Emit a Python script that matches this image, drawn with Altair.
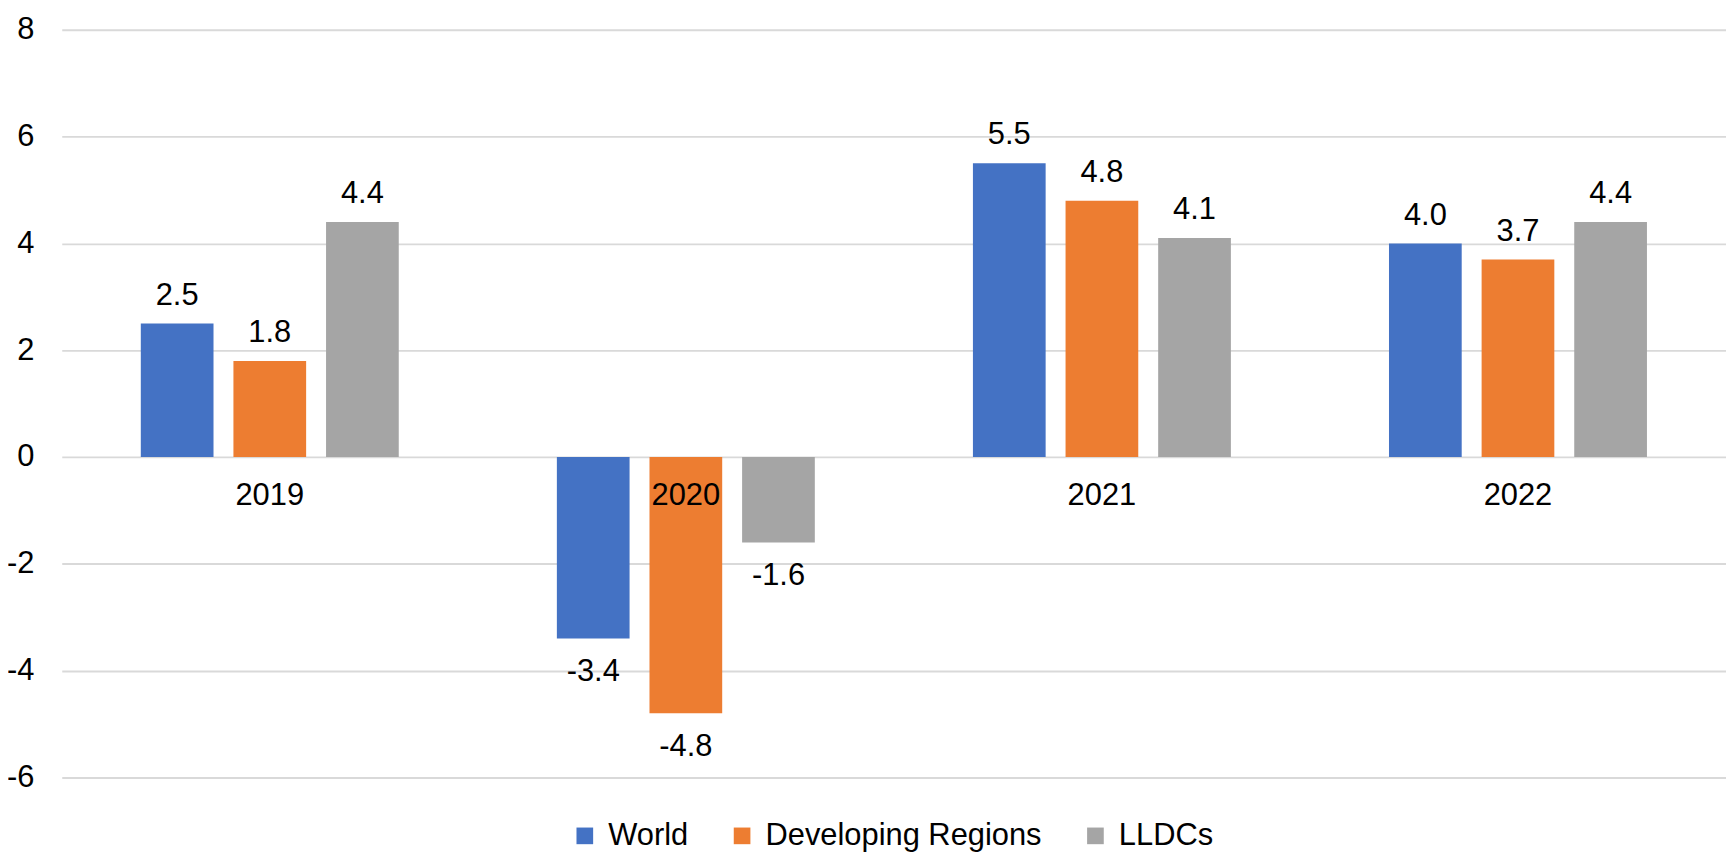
import altair as alt
import pandas as pd

years = ["2019", "2020", "2021", "2022"]
series = ["World", "Developing Regions", "LLDCs"]
world = [2.5, -3.4, 5.5, 4.0]
developing = [1.8, -4.8, 4.8, 3.7]
lldcs = [4.4, -1.6, 4.1, 4.4]
colors = ["#4472C4", "#ED7D31", "#A5A5A5"]
y_ticks = [-6, -4, -2, 0, 2, 4, 6, 8]

rows = []
for name, vals in zip(series, [world, developing, lldcs]):
    for yr, v in zip(years, vals):
        rows.append({"year": yr, "series": name, "value": v, "label": f"{v:.1f}"})
df = pd.DataFrame(rows)

W, H = 1672, 751
YMIN, YMAX = -6, 8
FONT = "Liberation Sans"
FS = 31
zero_offset = -H * (0 - YMIN) / (YMAX - YMIN)

base = alt.Chart(df).encode(
    x=alt.X(
        "year:N", sort=years, title=None,
        scale=alt.Scale(paddingInner=0.38, paddingOuter=0.19),
        axis=alt.Axis(
            orient="bottom", offset=zero_offset, domain=False, ticks=False,
            tickSize=0, grid=False, labelAngle=0, labelFontSize=FS,
            labelFont=FONT, labelColor="#000000", labelPadding=48,
            labelBaseline="alphabetic", zindex=1,
        ),
    ),
    xOffset=alt.XOffset(
        "series:N", sort=series,
        scale=alt.Scale(domain=series, paddingInner=0.215, paddingOuter=0),
    ),
    y=alt.Y(
        "value:Q", title=None,
        scale=alt.Scale(domain=[YMIN, YMAX], nice=False, zero=False),
        axis=alt.Axis(
            values=y_ticks, domain=False, ticks=False, tickSize=0,
            labelFontSize=FS, labelFont=FONT, labelColor="#000000",
            labelPadding=28, gridColor="#d9d9d9", gridWidth=2,
            labelExpr="'' + datum.value",
        ),
    ),
)

bars = base.mark_bar().encode(
    color=alt.Color(
        "series:N", sort=series,
        scale=alt.Scale(domain=series, range=colors),
        legend=alt.Legend(
            title=None, orient="none", direction="horizontal",
            legendX=510, legendY=794, symbolType="square", symbolSize=280,
            symbolStrokeWidth=0, labelFontSize=FS, labelFont=FONT,
            labelColor="#000000", columnPadding=38, labelOffset=8, padding=0,
            labelLimit=0,
        ),
    )
)

pos_text = base.transform_filter("datum.value >= 0").mark_text(
    dy=-19, baseline="alphabetic", fontSize=FS, font=FONT, color="#000000"
).encode(text="label:N")

neg_text = base.transform_filter("datum.value < 0").mark_text(
    dy=43, baseline="alphabetic", fontSize=FS, font=FONT, color="#000000"
).encode(text="label:N")

chart = alt.layer(bars, pos_text, neg_text).properties(
    width=W, height=H,
    padding={"left": 54, "top": 20, "right": 0, "bottom": 76},
    autosize=alt.AutoSizeParams(type="none"),
    background="white",
).configure_view(stroke=None)

chart.save("out.html", embed_options={"renderer": "svg", "actions": False})
